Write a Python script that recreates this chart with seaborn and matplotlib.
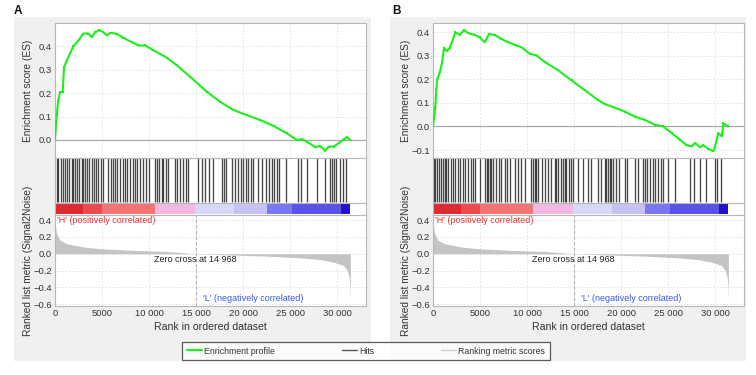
import matplotlib
matplotlib.use("Agg")
import matplotlib.pyplot as plt
import matplotlib.patches as mpatches
from matplotlib.lines import Line2D
import seaborn as sns
import pandas as pd

# ---------------- data ----------------
es_rank_a = [0, 178, 355, 533, 817, 959, 1243, 1598, 1953, 2485, 3018, 3550, 3905, 4260, 4722,
             5148, 5503, 5858, 6568, 7278, 8165, 8875, 9585, 10473, 11893, 12958, 14378, 16153,
             17573, 18993, 20413, 21833, 23253, 24673, 25738, 26270, 26803, 27690, 28152, 28755,
             29110, 29643, 30175, 30708, 31063, 31418]
es_val_a = [0.0, 0.106, 0.17, 0.205, 0.205, 0.31, 0.34, 0.37, 0.40, 0.425, 0.455, 0.455, 0.44,
            0.46, 0.47, 0.46, 0.447, 0.458, 0.454, 0.437, 0.418, 0.404, 0.404, 0.383, 0.352, 0.319,
            0.27, 0.206, 0.163, 0.128, 0.106, 0.085, 0.06, 0.028, 0.0, 0.003, -0.007, -0.031,
            -0.026, -0.045, -0.028, -0.028, -0.014, 0.003, 0.011, 0.0]

es_rank_b = [0, 249, 355, 462, 710, 959, 1172, 1491, 1775, 2024, 2379, 2840, 3302, 3728, 4438,
             4970, 5503, 5964, 6568, 7278, 7988, 8698, 9408, 10295, 11005, 11893, 13313, 14733,
             16153, 17573, 18283, 19348, 20413, 21478, 22543, 23608, 24495, 25383, 26270, 26980,
             27513, 27868, 28400, 28755, 29288, 29820, 29998, 30353, 30708, 30885, 31347]
es_val_b = [0.0, 0.084, 0.16, 0.2, 0.23, 0.27, 0.335, 0.32, 0.335, 0.36, 0.4, 0.39, 0.41, 0.397,
            0.389, 0.379, 0.358, 0.393, 0.389, 0.372, 0.358, 0.347, 0.337, 0.309, 0.302, 0.274,
            0.239, 0.196, 0.154, 0.112, 0.095, 0.08, 0.063, 0.042, 0.028, 0.007, 0.0, -0.028,
            -0.056, -0.08, -0.084, -0.07, -0.088, -0.08, -0.095, -0.105, -0.084, -0.028, -0.042,
            0.014, 0.0]

hits_a = [181, 351, 606, 819, 1064, 1245, 1521, 1777, 1947, 2128, 2372, 2585, 2840, 3011, 3191,
          3372, 3649, 3904, 4149, 4362, 4606, 4862, 5138, 5670, 5926, 6138, 6383, 6628, 6915,
          7202, 7447, 7691, 7979, 8266, 8511, 8755, 9043, 9330, 9681, 10032, 10638, 10883, 11096,
          11351, 11521, 11809, 12053, 12766, 13011, 13298, 13585, 13936, 14181, 15245, 15606,
          15957, 16415, 16840, 17734, 17979, 18191, 18798, 19149, 19500, 19787, 20032, 20319,
          20564, 20819, 21032, 21628, 21989, 22447, 22798, 23053, 23298, 23585, 23862, 24574,
          25883, 26138, 26777, 27840, 28723, 29255, 29436, 29681, 29894, 30319, 30670, 30957]

hits_b = [106, 248, 461, 638, 816, 1064, 1241, 1418, 1596, 1879, 2128, 2376, 2660, 2837, 3191,
          3440, 3723, 4007, 4255, 4504, 4965, 5567, 5709, 5851, 6028, 6206, 6383, 6738, 6986,
          7270, 7624, 7908, 8156, 8688, 9043, 9397, 9752, 10461, 10638, 10816, 10993, 11170,
          11596, 11879, 12234, 12589, 12943, 13121, 13298, 13582, 13830, 14007, 14184, 14433,
          14645, 14894, 15426, 15957, 16489, 16844, 17553, 17837, 18262, 18440, 18617, 18794,
          18972, 19149, 19504, 19752, 20390, 20674, 21454, 21809, 22340, 22518, 22802, 23050,
          23404, 23652, 23936, 24220, 24468, 24999, 25708, 27304, 27765, 28368, 29078, 29964,
          30248, 30673]

metric_rank = [0, 177, 532, 1242, 3017, 4792, 8342, 11892, 14968, 18990, 22540, 26090, 28220,
               29640, 30700, 31100, 31300, 31380, 31420]
metric_val = [0.36, 0.24, 0.16, 0.12, 0.08, 0.06, 0.04, 0.028, 0.0, -0.016, -0.028, -0.048,
              -0.07, -0.1, -0.14, -0.2, -0.28, -0.4, -0.56]

bar_edges = [0, 3000, 5000, 10650, 14900, 19000, 22600, 25200, 30400, 31420]
bar_colors = ["#dc2a30", "#ee4a4e", "#f47474", "#f4b6e2", "#d8d8fa", "#c6c2f6",
              "#7878f2", "#5a50ea", "#2412c4"]

zero_cross = 14968
x_ticks = [0, 5000, 10000, 15000, 20000, 25000, 30000]
x_tick_labels = ["0", "5000", "10 000", "15 000", "20 000", "25 000", "30 000"]
es_ticks_a = [0.0, 0.1, 0.2, 0.3, 0.4]
es_ticks_b = [-0.1, 0.0, 0.1, 0.2, 0.3, 0.4]
metric_ticks = [-0.6, -0.4, -0.2, 0.0, 0.2, 0.4]
legend_labels = ["Enrichment profile", "Hits", "Ranking metric scores"]

# ---------------- style ----------------
sns.set_style("white")
plt.rcParams["font.family"] = ["Liberation Sans", "DejaVu Sans"]
plt.rcParams["axes.unicode_minus"] = True

W, H = 756, 375
fig = plt.figure(figsize=(W / 100, H / 100), dpi=100)
fig.patch.set_facecolor("white")

def fx(px):
    return px / W

def fy(py):
    return 1 - py / H

GREEN = "#1cf01c"
FRAME = "#b8b8b8"
TXT = "#333333"
XMAX = 33080

for x0, y0, x1, y1 in [(14, 17, 371, 361), (390, 17, 746, 361)]:
    fig.patches.append(mpatches.Rectangle((fx(x0), fy(y1)), fx(x1 - x0), (y1 - y0) / H,
                                          transform=fig.transFigure, facecolor="#f0f0f0",
                                          edgecolor="none", zorder=-10))

def style_axis(ax):
    ax.set_facecolor("white")
    for s in ax.spines.values():
        s.set_color(FRAME)
        s.set_linewidth(0.8)
    ax.tick_params(axis="both", length=0, labelsize=6.8, colors=TXT, pad=2)
    ax.set_xlim(0, XMAX)

def panel(left, es_rank, es_val, es_ylim, es_ticks, hits, letter):
    width = 311
    ax_es = fig.add_axes([fx(left), fy(158), fx(width), 135 / H])
    ax_hit = fig.add_axes([fx(left), fy(203), fx(width), 45 / H])
    ax_bar = fig.add_axes([fx(left), fy(215), fx(width), 12 / H])
    ax_m = fig.add_axes([fx(left), fy(306), fx(width), 91 / H])

    # ES panel
    style_axis(ax_es)
    ax_es.set_ylim(*es_ylim)
    ax_es.set_yticks(es_ticks)
    ax_es.set_yticklabels([f"{t:.1f}".replace("-", "\u2212") for t in es_ticks])
    ax_es.set_xticks(x_ticks)
    ax_es.set_xticklabels([])
    ax_es.grid(True, color="#dedede", linestyle=(0, (2, 2)), linewidth=0.6)
    ax_es.axhline(0, color="#a8a8a8", linewidth=0.9, zorder=1)
    df = pd.DataFrame({"rank": es_rank, "es": es_val})
    sns.lineplot(data=df, x="rank", y="es", ax=ax_es, color=GREEN, linewidth=1.5,
                 marker="s", markersize=1.8, markeredgewidth=0, sort=False, zorder=3)
    ax_es.set_xlabel("")
    ax_es.set_ylabel("Enrichment score (ES)", fontsize=7.3, color=TXT)
    ax_es.yaxis.set_label_coords(-0.07, 0.5)

    # hits panel
    style_axis(ax_hit)
    ax_hit.set_ylim(0, 1)
    ax_hit.set_xticks([])
    ax_hit.set_yticks([])
    ax_hit.vlines(hits, 0.03, 0.99, color="black", alpha=0.72, linewidth=0.95)

    # colour bar
    style_axis(ax_bar)
    ax_bar.set_ylim(0, 1)
    ax_bar.set_xticks([])
    ax_bar.set_yticks([])
    for i, c in enumerate(bar_colors):
        ax_bar.axvspan(bar_edges[i], bar_edges[i + 1], 0.05, 0.95, color=c, linewidth=0)

    # ranked metric panel
    style_axis(ax_m)
    ax_m.set_ylim(-0.62, 0.46)
    ax_m.set_yticks(metric_ticks)
    ax_m.set_yticklabels([f"{t:.1f}".replace("-", "\u2212") for t in metric_ticks])
    ax_m.set_xticks(x_ticks)
    ax_m.set_xticklabels(x_tick_labels)
    ax_m.grid(True, color="#dedede", linestyle=(0, (2, 2)), linewidth=0.6)
    ax_m.fill_between(metric_rank, metric_val, 0, color="#c4c4c4", linewidth=0, zorder=2)
    ax_m.axvline(zero_cross, color="#b0b0b0", linestyle=(0, (3, 2)), linewidth=0.8, zorder=1)
    ax_m.text(zero_cross, -0.07, "Zero cross at 14 968", ha="center", va="center",
              fontsize=6.5, color="#222222", zorder=4)
    ax_m.text(200, 0.395, "'H' (positively correlated)", ha="left", va="center",
              fontsize=6.5, color="#e8343a", zorder=4)
    ax_m.text(21100, -0.53, "'L' (negatively correlated)", ha="center", va="center",
              fontsize=6.5, color="#3a5ae8", zorder=4)
    ax_m.set_xlabel("Rank in ordered dataset", fontsize=7.6, color=TXT, labelpad=3)
    ax_m.set_ylabel("Ranked list metric (Signal2Noise)", fontsize=7.3, color=TXT)
    ax_m.yaxis.set_label_coords(-0.07, 0.5)

    fig.text(fx(left - 41), fy(11), letter, fontsize=8.5, fontweight="bold",
             color="#111111", ha="left", va="center")

panel(55, es_rank_a, es_val_a, (-0.077, 0.5), es_ticks_a, hits_a, "A")
panel(433, es_rank_b, es_val_b, (-0.134, 0.44), es_ticks_b, hits_b, "B")

handles = [Line2D([], [], color=GREEN, linewidth=1.6),
           Line2D([], [], color="#555555", linewidth=1.0),
           Line2D([], [], color="#d0d0d0", linewidth=1.0)]
leg = fig.legend(handles, legend_labels, ncol=3, loc="center",
                 bbox_to_anchor=(fx(366), fy(351)),
                 frameon=True, fancybox=False, edgecolor="#333333", fontsize=6.3,
                 handlelength=1.7, handletextpad=0.3, borderpad=0.5, borderaxespad=0,
                 columnspacing=7.6)
leg.get_frame().set_linewidth(0.9)
for t in leg.get_texts():
    t.set_color(TXT)

fig.savefig("out.png", dpi=100, facecolor="white")
